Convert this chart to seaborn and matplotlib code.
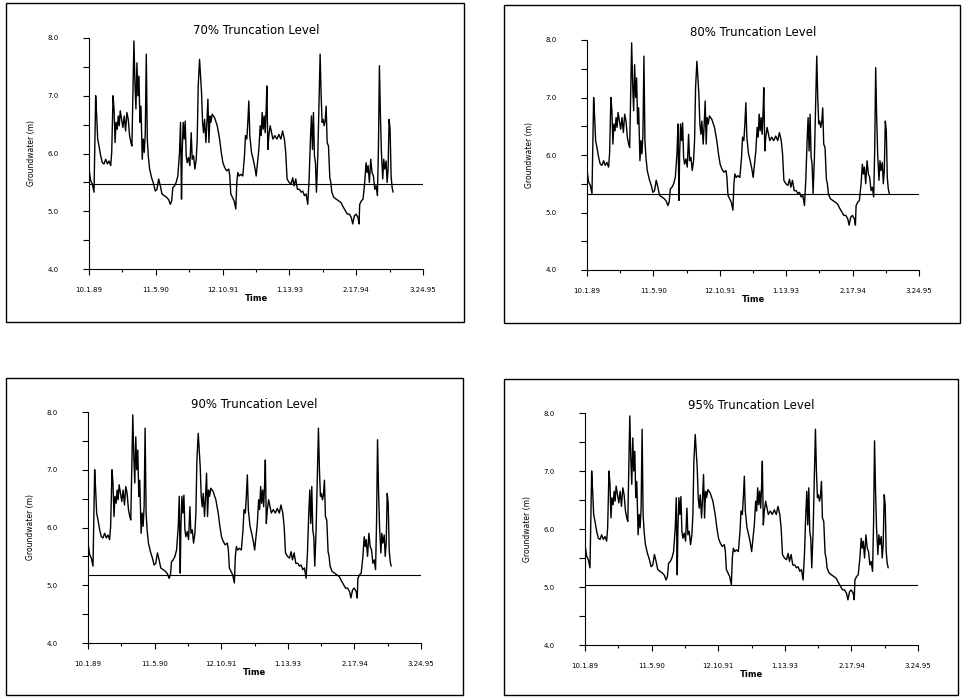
import numpy as np
import matplotlib
matplotlib.use("Agg")
import matplotlib.pyplot as plt
import matplotlib.patches as patches
import seaborn as sns
import pandas as pd

# groundwater record, days since 10.1.89
days = [0, 10, 20, 30, 40, 46, 52, 60, 70, 80, 90, 100, 110, 120, 130, 136, 144, 150, 156, 162,
        169, 175, 181, 187, 195, 203, 211, 219, 227, 235, 243, 251, 257, 263, 269, 275, 281, 287, 293, 299,
        305, 311, 319, 325, 331, 337, 343, 349, 355, 363, 375, 387, 397, 407, 417, 427, 437, 451, 465, 477,
        487, 495, 502, 512, 522, 532, 542, 548, 554, 558, 564, 570, 576, 582, 588, 596, 604, 612, 618, 626,
        634, 642, 648, 654, 662, 668, 674, 680, 686, 692, 700, 706, 712, 718, 724, 730, 738, 752, 768, 782,
        792, 802, 812, 824, 837, 843, 849, 859, 869, 879, 885, 891, 899, 909, 921, 931, 937, 945, 951, 957,
        963, 973, 983, 993, 1001, 1009, 1017, 1025, 1031, 1037, 1043, 1049, 1055, 1061, 1065, 1071, 1077, 1085, 1093, 1101,
        1113, 1125, 1137, 1149, 1159, 1170, 1178, 1186, 1198, 1210, 1220, 1228, 1238, 1248, 1260, 1270, 1280, 1290, 1300, 1310,
        1318, 1326, 1332, 1338, 1344, 1350, 1356, 1362, 1370, 1376, 1384, 1390, 1396, 1402, 1408, 1414, 1420, 1426, 1434, 1442,
        1448, 1454, 1466, 1480, 1494, 1509, 1523, 1535, 1547, 1559, 1571, 1579, 1589, 1599, 1611, 1617, 1621, 1631, 1641, 1651,
        1659, 1665, 1671, 1679, 1687, 1695, 1703, 1711, 1719, 1727, 1733, 1739, 1745, 1751, 1759, 1765, 1771, 1779, 1785, 1791,
        1797, 1803, 1809, 1815, 1821]
groundwater = [5.73, 5.53, 5.47, 5.33, 7.00, 6.65, 6.25, 6.13, 5.96, 5.84, 5.82, 5.90, 5.82, 5.87, 5.79, 6.02, 7.00, 6.77, 6.19, 6.54,
               6.42, 6.65, 6.48, 6.74, 6.59, 6.45, 6.65, 6.39, 6.71, 6.59, 6.31, 6.19, 6.13, 7.00, 7.95, 7.23, 6.77, 7.57, 7.00, 7.34,
               6.54, 6.82, 5.90, 6.25, 6.02, 6.36, 7.72, 6.25, 5.96, 5.73, 5.58, 5.47, 5.35, 5.38, 5.56, 5.44, 5.30, 5.27, 5.24, 5.20,
               5.12, 5.18, 5.41, 5.44, 5.50, 5.61, 6.02, 6.54, 5.21, 6.02, 6.54, 6.25, 6.56, 5.96, 5.84, 5.93, 5.79, 6.36, 5.90, 5.96,
               5.73, 5.90, 6.25, 7.17, 7.63, 7.34, 7.05, 6.54, 6.36, 6.59, 6.19, 6.54, 6.94, 6.19, 6.65, 6.54, 6.68, 6.62, 6.48, 6.25,
               6.02, 5.84, 5.76, 5.70, 5.73, 5.61, 5.30, 5.24, 5.18, 5.04, 5.50, 5.67, 5.61, 5.64, 5.61, 5.96, 6.31, 6.25, 6.54, 6.91,
               6.31, 6.02, 5.90, 5.76, 5.61, 5.84, 6.07, 6.48, 6.31, 6.71, 6.42, 6.65, 6.36, 6.77, 7.17, 6.07, 6.31, 6.48, 6.36, 6.25,
               6.31, 6.25, 6.33, 6.25, 6.39, 6.25, 6.02, 5.56, 5.50, 5.47, 5.58, 5.44, 5.56, 5.38, 5.38, 5.33, 5.35, 5.27, 5.30, 5.12,
               5.56, 6.25, 6.65, 6.07, 6.71, 5.96, 5.84, 5.33, 5.96, 6.71, 7.72, 7.00, 6.54, 6.59, 6.48, 6.56, 6.82, 6.19, 6.13, 5.58,
               5.50, 5.33, 5.24, 5.21, 5.18, 5.15, 5.07, 5.01, 4.95, 4.95, 4.89, 4.78, 4.92, 4.95, 4.89, 4.78, 5.12, 5.18, 5.21, 5.50,
               5.84, 5.67, 5.79, 5.50, 5.90, 5.67, 5.61, 5.38, 5.44, 5.27, 6.07, 7.52, 6.65, 6.02, 5.56, 5.90, 5.73, 5.87, 5.50, 5.73,
               6.59, 6.42, 5.61, 5.41, 5.33]

truncation_pct = ["70%", "80%", "90%", "95%"]
truncation_level = [5.48, 5.33, 5.18, 5.03]

tick_dates = ["10.1.89", "11.5.90", "12.10.91", "1.13.93", "2.17.94", "3.24.95"]
y_ticks = [4.0, 5.0, 6.0, 7.0, 8.0]

start = pd.Timestamp("1989-10-01")
df = pd.DataFrame({"date": start + pd.to_timedelta(days, unit="D"), "gw": groundwater})
major = pd.to_datetime(tick_dates, format="%m.%d.%y")
minor = major[:-1] + (major[1:] - major[:-1]) / 2

sns.set_style("ticks")
plt.rcParams["font.family"] = ["DejaVu Sans"]
plt.rcParams["text.color"] = "black"
plt.rcParams["axes.labelcolor"] = "black"
plt.rcParams["xtick.color"] = "black"
plt.rcParams["ytick.color"] = "black"

W, H = 963, 698
fig = plt.figure(figsize=(W / 100, H / 100), dpi=100)

# axes and frame boxes in pixels (left, top, right, bottom)
axes_px = [(89, 38, 423, 269), (587, 40, 919, 270), (88, 412, 421, 643), (585, 413, 918, 645)]
boxes_px = [(6, 3, 464, 322), (504, 5, 960, 323), (6, 378, 463, 695), (504, 379, 958, 695)]

for i in range(4):
    bx0, by0, bx1, by1 = boxes_px[i]
    fig.patches.append(patches.Rectangle((bx0 / W, 1 - by1 / H), (bx1 - bx0) / W, (by1 - by0) / H,
                                         transform=fig.transFigure, fill=False, lw=1.0, ec="black"))
    x0, y0, x1, y1 = axes_px[i]
    ax = fig.add_axes([x0 / W, 1 - y1 / H, (x1 - x0) / W, (y1 - y0) / H])
    sns.lineplot(data=df, x="date", y="gw", ax=ax, color="black", lw=1.0)
    ax.axhline(truncation_level[i], color="black", lw=0.8)
    ax.set_xlim(major[0], major[-1])
    ax.set_ylim(4, 8)
    ax.set_xticks(major)
    ax.set_xticklabels(tick_dates)
    ax.set_xticks(minor, minor=True)
    ax.set_yticks(y_ticks)
    ax.set_yticklabels([f"{v:.1f}" for v in y_ticks])
    ax.set_yticks([4.5, 5.5, 6.5, 7.5], minor=True)
    ax.tick_params(axis="both", which="major", labelsize=5, length=4, width=0.8, color="black")
    ax.tick_params(axis="y", which="both", pad=18)
    ax.tick_params(axis="y", which="minor", length=4, width=0.8)
    ax.tick_params(axis="x", which="minor", length=2.5, width=0.8)
    ax.tick_params(axis="x", which="major", pad=9)
    ax.set_xlabel("Time", fontsize=6, fontweight="bold", labelpad=1)
    ax.set_ylabel("Groundwater (m)", fontsize=5.5, labelpad=8)
    ax.set_title(f"{truncation_pct[i]} Truncation Level", fontsize=8.5, pad=3, color="black")
    sns.despine(ax=ax)
    for s in ["left", "bottom"]:
        ax.spines[s].set_color("black")
        ax.spines[s].set_linewidth(0.8)

fig.savefig("out.png", dpi=100)
